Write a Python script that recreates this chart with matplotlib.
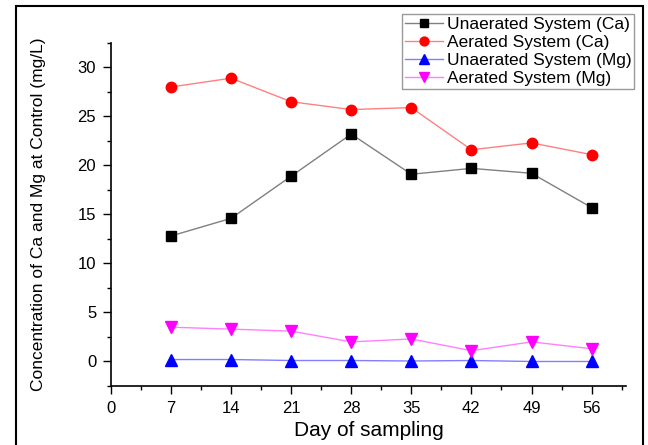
import matplotlib
matplotlib.use("Agg")
import matplotlib.pyplot as plt
from matplotlib.patches import Rectangle
from matplotlib.ticker import MultipleLocator

plt.rcParams['font.family'] = ['Liberation Sans', 'DejaVu Sans']

# Días de muestreo y concentraciones (mg/L)
dias = [7, 14, 21, 28, 35, 42, 49, 56]
ca_sin_aire = [12.8, 14.6, 18.9, 23.2, 19.1, 19.7, 19.2, 15.7]
ca_aireado = [28.0, 28.9, 26.5, 25.7, 25.9, 21.6, 22.3, 21.1]
mg_sin_aire = [0.2, 0.2, 0.1, 0.1, 0.05, 0.1, 0.0, 0.0]
mg_aireado = [3.5, 3.3, 3.1, 2.0, 2.3, 1.1, 2.0, 1.3]

fig = plt.figure(figsize=(6.48, 4.45), dpi=100)
ax = fig.add_axes([0.171, 0.1326, 0.795, 0.771])

ax.plot(dias, ca_sin_aire, color='#808080', lw=1, marker='s', ms=7,
        mfc='black', mec='black', label='Unaerated System (Ca)')
ax.plot(dias, ca_aireado, color='#ff8080', lw=1, marker='o', ms=7.5,
        mfc='red', mec='red', label='Aerated System (Ca)')
ax.plot(dias, mg_sin_aire, color='#8080ff', lw=1, marker='^', ms=8,
        mfc='blue', mec='blue', label='Unaerated System (Mg)')
ax.plot(dias, mg_aireado, color='#ff80ff', lw=1, marker='v', ms=8,
        mfc='magenta', mec='magenta', label='Aerated System (Mg)')

ax.set_xlim(0, 60)
ax.set_ylim(-2.5, 32.5)
ax.xaxis.set_major_locator(MultipleLocator(7))
ax.xaxis.set_minor_locator(MultipleLocator(3.5))
ax.yaxis.set_minor_locator(MultipleLocator(2.5))
ax.set_yticks([0, 5, 10, 15, 20, 25, 30])
ax.tick_params(which='major', direction='out', length=6, width=1, labelsize=12, pad=4.5)
ax.tick_params(which='minor', direction='out', length=3, width=1)

ax.spines['top'].set_visible(False)
ax.spines['right'].set_visible(False)
ax.spines['left'].set_linewidth(1.2)
ax.spines['bottom'].set_linewidth(1.2)

ax.set_xlabel('Day of sampling', fontsize=15, labelpad=4)
ax.set_ylabel('Concentration of Ca and Mg at Control (mg/L)', fontsize=12.5)
ax.yaxis.set_label_coords(-0.125, 0.5)

leg = fig.legend(loc='upper right', bbox_to_anchor=(0.978, 0.9685), fontsize=12.5,
                 frameon=True, fancybox=False, handlelength=2.2, markerscale=0.85,
                 borderpad=0.15, labelspacing=0.17, handletextpad=0.2,
                 borderaxespad=0)
leg.get_frame().set_edgecolor('#808080')
leg.get_frame().set_linewidth(1)

# marco exterior de la figura
fig.patches.append(Rectangle((0.0247, -0.02), 0.967, 1.0065, transform=fig.transFigure,
                             fill=False, edgecolor='black', lw=1.5))

fig.savefig('out.png', dpi=100)
